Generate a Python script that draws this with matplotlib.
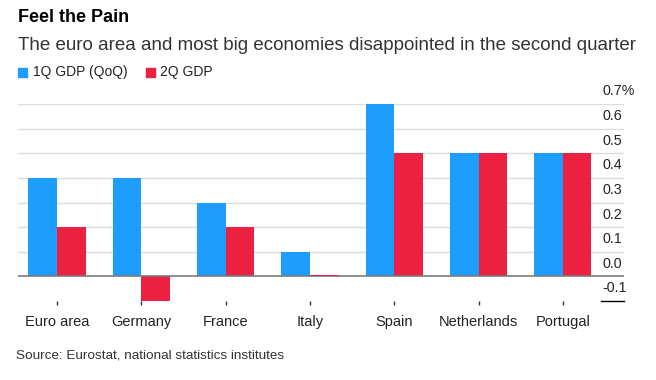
import numpy as np
import matplotlib.pyplot as plt
from matplotlib.patches import Rectangle
import matplotlib.transforms as mtransforms

plt.rcParams['font.family'] = ['Liberation Sans', 'DejaVu Sans']

countries = ['Euro area', 'Germany', 'France', 'Italy', 'Spain', 'Netherlands', 'Portugal']
gdp_1q = [0.4, 0.4, 0.3, 0.1, 0.7, 0.5, 0.5]
gdp_2q = [0.2, -0.1, 0.2, 0.0, 0.5, 0.5, 0.5]
yticks = [0.7, 0.6, 0.5, 0.4, 0.3, 0.2, 0.1, 0.0, -0.1]
ytick_labels = ['0.7%', '0.6', '0.5', '0.4', '0.3', '0.2', '0.1', '0.0', '-0.1']

blue = '#1d9efe'
red = '#ec2142'

fig = plt.figure(figsize=(6.56, 3.8), dpi=100)
ax = fig.add_axes([18/656, 79/380, 606/656, 197/380])

x = np.arange(len(countries))
w = 0.34
ax.bar(x - w/2, gdp_1q, w, color=blue, zorder=2)
ax.bar(x + w/2, gdp_2q, w, color=red, zorder=2)
# Italy 2Q is zero: thin red stroke
ax.bar(x + w/2, [0.005 if v == 0 else 0 for v in gdp_2q], w, color=red, zorder=5)

ax.set_xlim(-0.463, 6.726)
ax.set_ylim(-0.1, 0.7)

for t in yticks:
    if t > 0:
        ax.axhline(t, color='#dcdcdc', lw=1, zorder=1)
ax.axhline(0, color='#7a7a7a', lw=1.2, zorder=4)
ax.plot([0.962, 1.0], [-0.1, -0.1], transform=ax.get_yaxis_transform(),
        color='black', lw=1, clip_on=False)

trans = mtransforms.blended_transform_factory(ax.transAxes, ax.transData)
off = mtransforms.offset_copy(trans, fig=fig, x=0, y=4, units='points')
for t, lab in zip(yticks, ytick_labels):
    ax.text(0.965, t, lab, transform=off, ha='left', va='bottom',
            fontsize=10.3, color='#222222')

for s in ax.spines.values():
    s.set_visible(False)
ax.set_yticks([])
ax.set_xticks(x)
ax.set_xticklabels(countries, fontsize=10.5, color='#222222')
ax.tick_params(axis='x', direction='out', length=3, width=1, color='#333333', pad=7)

fig.text(18/656, 1 - 18/380, 'Feel the Pain', fontsize=13, fontweight='bold',
         va='center', ha='left', color='black')
fig.text(18/656, 1 - 45/380,
         'The euro area and most big economies disappointed in the second quarter',
         fontsize=13.5, va='center', ha='left', color='#333333')

fig.patches.append(Rectangle((18/656, 1 - 77/380), 9/656, 9/380, color=blue,
                             transform=fig.transFigure, figure=fig))
fig.text(33/656, 1 - 72/380, '1Q GDP (QoQ)', fontsize=10, va='center', ha='left',
         color='#222222')
fig.patches.append(Rectangle((146/656, 1 - 77/380), 9/656, 9/380, color=red,
                             transform=fig.transFigure, figure=fig))
fig.text(160/656, 1 - 72/380, '2Q GDP', fontsize=10, va='center', ha='left',
         color='#222222')

fig.text(16/656, 1 - 356/380, 'Source: Eurostat, national statistics institutes',
         fontsize=9.7, va='center', ha='left', color='#333333')

fig.savefig('out.png', dpi=100)
